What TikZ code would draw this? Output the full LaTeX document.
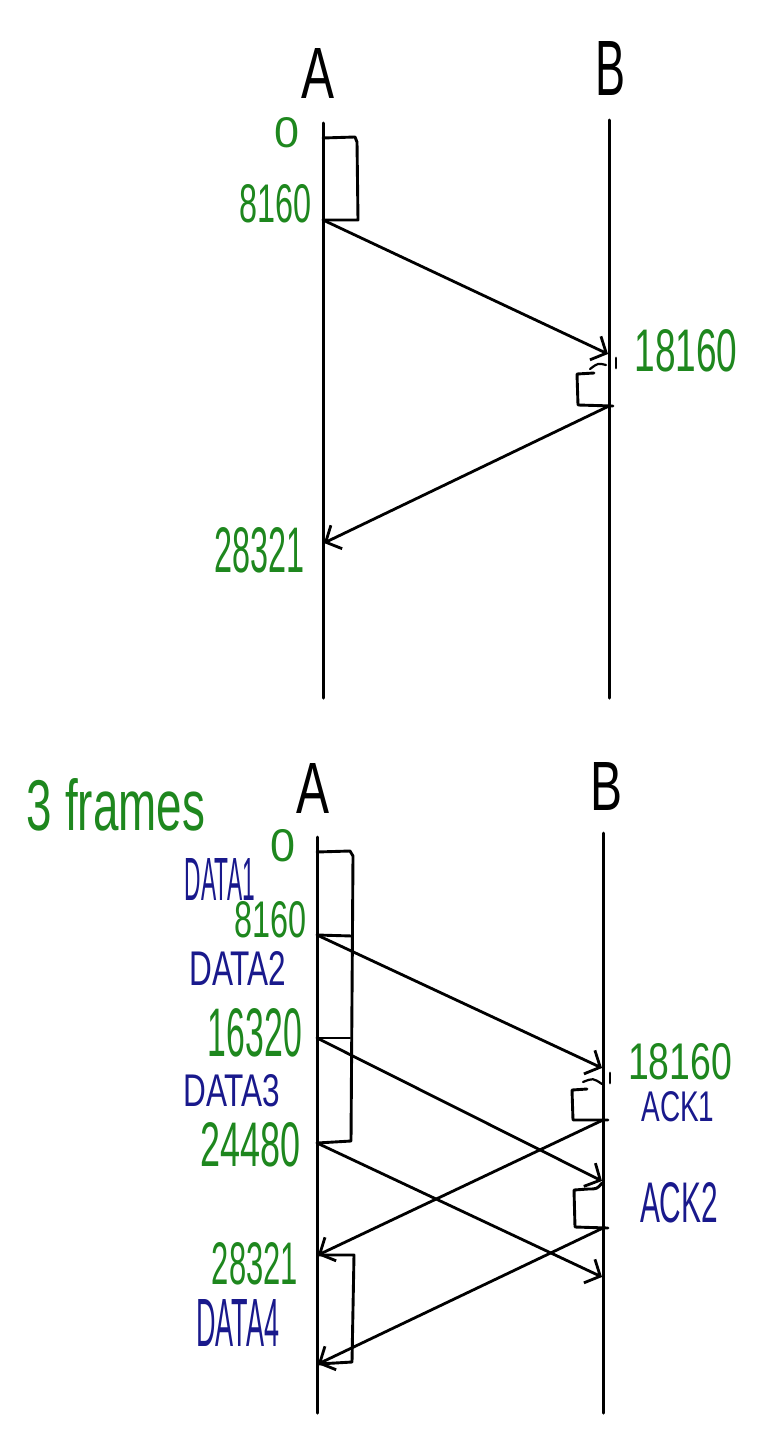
\documentclass[tikz,border=0pt]{standalone}
\usepackage{fontspec}
\setmainfont{Liberation Sans}
\usetikzlibrary{arrows.meta}
\definecolor{hwgreen}{RGB}{30,135,30}
\definecolor{hwblue}{RGB}{25,25,140}
\newcommand{\hwtext}[3]{\resizebox{#1pt}{#2pt}{#3}}
\begin{document}
\begin{tikzpicture}[x=1pt,y=-1pt, line cap=round, line join=round,
  life/.style={line width=3pt},
  msg/.style={line width=2.8pt,-{Straight Barb[length=12pt,width=26pt]}},
  box/.style={line width=2.9pt},
  lbl/.style={inner sep=0pt,outer sep=0pt},
  grn/.style={lbl,text=hwgreen},
  blu/.style={lbl,text=hwblue},
  blk/.style={lbl,text=black}]
\useasboundingbox[fill=white] (0,0) rectangle (762,1437);

% ---------------- top diagram ----------------
\node[blk] (tAlab) at (318,73) {\hwtext{33}{50}{A}};
\node[blk] (tBlab) at (610,68) {\hwtext{30}{54}{B}};
\coordinate (tAtop) at (323,123);
\coordinate (tAbot) at (323,698);
\coordinate (tBtop) at (609,120);
\coordinate (tBbot) at (609,698);
\draw[life] (tAtop) -- (tAbot);
\draw[life] (tBtop) -- (tBbot);

\coordinate (tA0) at (323,138);
\coordinate (tA1) at (323,220);
\coordinate (tB1) at (608,354);
\coordinate (tB2) at (609,406);
\coordinate (tA2) at (324,543);

\draw[box] (tA0) -- (355,137) -- (357,142) -- (358,220) -- (tA1);
\draw[msg] (tA1) -- (tB1);
\draw[box] (594,373) -- (577,374) -- (578,405) -- (613,406);
\draw[box,line width=2.2pt] (590,369) .. controls (598,363) .. (606,365);
\draw[box] (616,358) -- (616,368);
\draw[msg] (tB2) -- (tA2);

\node[grn] (t0) at (287,133) {\hwtext{25}{30}{0}};
\node[grn] (t8160) at (276,204) {\hwtext{72}{38}{8160}};
\node[grn] (t18160) at (686,351) {\hwtext{103}{42}{18160}};
\node[grn] (t28321) at (260,550) {\hwtext{90}{45}{28321}};

% ---------------- bottom diagram ----------------
\node[grn] (frames) at (116,805) {\hwtext{178}{52}{3 frames}};
\node[blk] (bAlab) at (313,788) {\hwtext{33}{50}{A}};
\node[blk] (bBlab) at (606,786) {\hwtext{32}{48}{B}};
\coordinate (bAtop) at (317,837);
\coordinate (bAbot) at (317,1413);
\coordinate (bBtop) at (603,833);
\coordinate (bBbot) at (603,1413);
\draw[life] (bAtop) -- (bAbot);
\draw[life] (bBtop) -- (bBbot);

\coordinate (bA0) at (317,852);
\coordinate (bA1) at (317,935);
\coordinate (bA2) at (317,1038);
\coordinate (bA3) at (317,1143);
\coordinate (bA4) at (318,1255);
\coordinate (bA5) at (318,1364);
\coordinate (bB1) at (602,1068);
\coordinate (bB2) at (602,1181);
\coordinate (bB3) at (602,1277);
\coordinate (bB1a) at (603,1120);
\coordinate (bB2a) at (603,1228);

\draw[box] (bA0) -- (350,851) -- (353,856) -- (351,1141) -- (bA3);
\draw[box] (bA1) -- (352,936);
\draw[box] (bA2) -- (350,1038);
\draw[msg] (bA1) -- (bB1);
\draw[msg] (bA2) -- (bB2);
\draw[msg] (bA3) -- (bB3);

\draw[box] (587,1089) -- (572,1090) -- (573,1120) -- (608,1120);
\draw[box,line width=2.2pt] (583,1082) .. controls (593,1078) .. (602,1084);
\draw[box] (610,1073) -- (610,1083);
\draw[msg] (bB1a) -- (bA4);

\draw[box] (602,1183) .. controls (597,1189) .. (588,1189) -- (574,1190) -- (575,1227) -- (608,1228);
\draw[msg] (bB2a) -- (bA5);

\draw[box] (bA4) -- (354,1255) -- (352,1362) -- (bA5);

\node[grn] (b0) at (283,846) {\hwtext{25}{32}{0}};
\node[blu] (data1) at (220,879) {\hwtext{70}{42}{DATA1}};
\node[grn] (b8160) at (271,920) {\hwtext{72}{36}{8160}};
\node[blu] (data2) at (238,968) {\hwtext{97}{34}{DATA2}};
\node[grn] (b16320) at (255,1033) {\hwtext{94}{48}{16320}};
\node[blu] (data3) at (232,1091) {\hwtext{97}{32}{DATA3}};
\node[grn] (b24480) at (251,1145) {\hwtext{100}{44}{24480}};
\node[grn] (b18160) at (680,1062) {\hwtext{104}{36}{18160}};
\node[blu] (ack1) at (678,1107) {\hwtext{73}{30}{ACK1}};
\node[blu] (ack2) at (679,1203) {\hwtext{78}{40}{ACK2}};
\node[grn] (b28321) at (255,1264) {\hwtext{86}{42}{28321}};
\node[blu] (data4) at (238,1323) {\hwtext{83}{47}{DATA4}};
\end{tikzpicture}
\end{document}
